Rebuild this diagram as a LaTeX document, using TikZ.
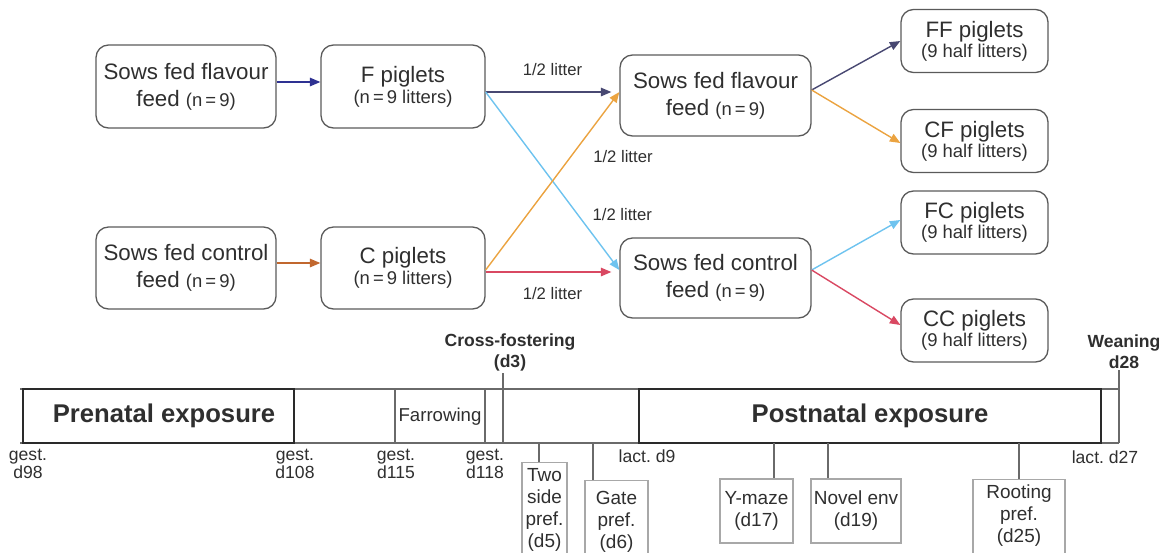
\documentclass[tikz,border=0pt]{standalone}
\usepackage{fontspec}
\setmainfont{Liberation Sans}
\usetikzlibrary{arrows.meta,positioning,calc}

\definecolor{boxgray}{HTML}{5A5A5A}
\definecolor{textgray}{HTML}{2F2F2F}
\definecolor{navyblue}{HTML}{2E3192}
\definecolor{slateblue}{HTML}{484872}
\definecolor{feedbrown}{HTML}{C1672E}
\definecolor{feedorange}{HTML}{EBA340}
\definecolor{skyblue}{HTML}{6EC3EF}
\definecolor{rosered}{HTML}{D94862}
\definecolor{linegray}{HTML}{6A6A6A}
\definecolor{darkline}{HTML}{2A2A2A}
\definecolor{lightbox}{HTML}{A8A8A8}

\newcommand{\nsmall}[1]{{\fontsize{10.5}{12.6}\selectfont #1}}

\begin{document}
\begin{tikzpicture}[x=0.02cm, y=-0.02cm,
    feedbox/.style={draw=boxgray, line width=0.75pt, rounded corners=2.5mm, align=center,
      inner sep=1pt, text=textgray, font=\fontsize{12.7}{15.4}\selectfont},
    flow/.style={line width=0.8pt, -{Triangle[length=2.1mm, width=1.7mm]}},
    half/.style={text=textgray, font=\fontsize{9.5}{11}\selectfont, inner sep=0pt},
    phase/.style={draw=darkline, line width=1.3pt, inner sep=0pt, text=textgray,
      minimum height=1.08cm, font=\fontsize{14.6}{17}\bfseries\selectfont},
    tline/.style={draw=linegray, line width=0.6pt},
    daylabel/.style={align=center, text=textgray, font=\fontsize{10}{10.5}\selectfont},
    eventlabel/.style={align=center, text=textgray, font=\fontsize{10}{12}\bfseries\selectfont},
    testbox/.style={draw=lightbox, line width=0.6pt, align=center, inner xsep=1pt,
      text=textgray, font=\fontsize{10.8}{12.5}\selectfont}]

    \useasboundingbox (0,0) rectangle (1164,552);

    % Sows and their own piglets
    \node[feedbox, minimum width=3.6cm, minimum height=1.66cm] (sowsF) at (186,86.5)
        {Sows fed flavour\\feed \nsmall{(n\,=\,9)}};
    \node[feedbox, minimum width=3.28cm, minimum height=1.66cm] (pigF) at (403,86.5)
        {F piglets\\[-3.4pt]\nsmall{(n\,=\,9 litters)}};
    \node[feedbox, minimum width=3.6cm, minimum height=1.64cm] (sowsC) at (186,268)
        {Sows fed control\\feed \nsmall{(n\,=\,9)}};
    \node[feedbox, minimum width=3.28cm, minimum height=1.64cm] (pigC) at (403,268)
        {C piglets\\[-3.4pt]\nsmall{(n\,=\,9 litters)}};

    % Foster sows
    \node[feedbox, minimum width=3.82cm, minimum height=1.62cm] (fosterF) at (715.5,95.5)
        {Sows fed flavour\\feed \nsmall{(n\,=\,9)}};
    \node[feedbox, minimum width=3.82cm, minimum height=1.6cm] (fosterC) at (715.5,278)
        {Sows fed control\\feed \nsmall{(n\,=\,9)}};

    % Treatment groups
    \node[feedbox, minimum width=2.94cm, minimum height=1.26cm] (FF) at (974.5,41)
        {FF piglets\\[-4pt]\nsmall{(9 half litters)}};
    \node[feedbox, minimum width=2.94cm, minimum height=1.26cm] (CF) at (974.5,141)
        {CF piglets\\[-4pt]\nsmall{(9 half litters)}};
    \node[feedbox, minimum width=2.94cm, minimum height=1.26cm] (FC) at (974.5,222.5)
        {FC piglets\\[-4pt]\nsmall{(9 half litters)}};
    \node[feedbox, minimum width=2.94cm, minimum height=1.26cm] (CC) at (974.5,330.5)
        {CC piglets\\[-4pt]\nsmall{(9 half litters)}};

    % Arrows
    \draw[flow, navyblue] ([yshift=0.9mm]sowsF.east) -- ([yshift=0.9mm]sowsF.east -| pigF.west);
    \draw[flow, feedbrown] ([yshift=1mm]sowsC.east) -- ([yshift=1mm]sowsC.east -| pigC.west);
    \draw[flow, slateblue, shorten >=1.6mm] ([yshift=-1.1mm]pigF.east)
        -- node[half, above=3.2mm]{1/2 litter} ([yshift=-1.1mm]pigF.east -| fosterF.west);
    \draw[flow, skyblue] ([yshift=-1.1mm]pigF.east)
        -- node[half, pos=0.69, anchor=west, xshift=2.8mm]{1/2 litter} ([yshift=1.6mm]fosterC.west);
    \draw[flow, feedorange] ([yshift=-0.4mm]pigC.east)
        -- node[half, pos=0.635, anchor=west, xshift=4.4mm]{1/2 litter} ([yshift=0.7mm]fosterF.west);
    \draw[flow, rosered, shorten >=1.6mm] ([yshift=-0.8mm]pigC.east)
        -- node[half, below=3mm]{1/2 litter} ([yshift=-0.8mm]pigC.east -| fosterC.west);
    \draw[flow, slateblue] ([yshift=1.1mm]fosterF.east) -- (FF.west);
    \draw[flow, feedorange] ([yshift=1.1mm]fosterF.east) -- ([yshift=-0.4mm]CF.west);
    \draw[flow, skyblue] ([yshift=1.6mm]fosterC.east) -- ([yshift=0.5mm]FC.west);
    \draw[flow, rosered] ([yshift=1.6mm]fosterC.east) -- ([yshift=1.1mm]CC.west);

    % Time line
    \draw[tline] (20,389) -- (1119,389) (20,443) -- (1119,443);
    \node[phase, minimum width=5.42cm] (prenatal) at (158.5,416) {\hspace*{2.2mm}Prenatal exposure};
    \node[phase, minimum width=9.24cm] (postnatal) at (870,416) {Postnatal exposure};
    \draw[tline] (395,389) -- (395,443) (485,389) -- (485,443);
    \node[text=textgray, font=\fontsize{10.6}{12}\selectfont] (farrow) at (440,417) {Farrowing};
    \coordinate (fostering) at (503,373);
    \draw[tline, line width=0.9pt] (fostering) -- (503,443);
    \node[eventlabel] (fosterlbl) at (510,352) {Cross-fostering\\(d3)};
    \coordinate (weaning) at (1119,370);
    \draw[tline] (weaning) -- (1119,443);
    \node[eventlabel] (weanlbl) at (1124,352) {Weaning\\d28};

    % Days
    \node[daylabel] (g98) at (28,464) {gest.\\d98};
    \node[daylabel] (g108) at (295,464) {gest.\\d108};
    \node[daylabel] (g115) at (396,464) {gest.\\d115};
    \node[daylabel] (g118) at (485,464) {gest.\\d118};
    \node[daylabel] (l9) at (647,456) {lact.\ d9};
    \node[daylabel] (l27) at (1105,457) {lact.\ d27};

    % Behavioural tests
    \node[testbox, anchor=north, minimum width=0.9cm, inner ysep=3.6pt, text depth=9mm] (twoside) at (544.5,462) {Two\\side\\pref.\\(d5)};
    \node[testbox, anchor=north, minimum width=1.26cm, inner ysep=5.9pt, text depth=9mm] (gate) at (616.5,480) {Gate\\pref.\\(d6)};
    \node[testbox, minimum width=1.46cm, minimum height=1.28cm] (ymaze) at (756.5,511) {Y-maze\\(d17)};
    \node[testbox, minimum width=1.8cm, minimum height=1.28cm] (novel) at (856,511) {Novel env\\(d19)};
    \node[testbox, anchor=north, minimum width=1.84cm, inner ysep=3pt, text depth=9mm] (rooting) at (1019,479) {Rooting\\pref.\\(d25)};
    \foreach \tx/\tb in {539/twoside, 593/gate, 774/ymaze, 828/novel, 1019/rooting}
        \draw[tline] (\tx,443) -- (\tb.north -| \tx,0);
\end{tikzpicture}
\end{document}
